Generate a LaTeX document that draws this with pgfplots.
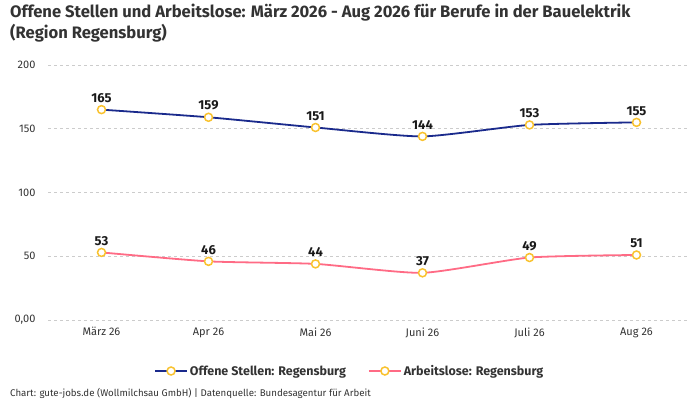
\documentclass[border=0pt]{standalone}
\usepackage{pgfplots}
\pgfplotsset{compat=1.18}
\usepackage{fontspec}
\setmainfont{Fira Sans}
\definecolor{txt}{HTML}{333333}
\definecolor{blue1}{HTML}{1A2A8C}
\definecolor{pink1}{HTML}{FF6B85}
\definecolor{gold1}{HTML}{F9C22E}
\definecolor{gridc}{HTML}{CCCCCC}
\begin{document}
\begin{tikzpicture}
% axis box corner sits at (0,0); the page spans 700pt x 400pt around it
\path[use as bounding box] (-48pt,-80pt) rectangle (652pt,320pt);
\node[anchor=north west, align=left, text=txt, font=\bfseries\fontsize{16.6}{21}\selectfont, inner sep=0pt] at (-38pt,316pt)
  {Offene Stellen und Arbeitslose: März 2026 - Aug 2026 für Berufe in der Bauelektrik\\(Region Regensburg)};
\node[anchor=west, text=txt, font=\fontsize{9.7}{11}\selectfont, inner sep=0pt] at (-38pt,-73pt)
  {Chart: gute-jobs.de (Wollmilchsau GmbH) | Datenquelle: Bundesagentur für Arbeit};
\begin{axis}[
  at={(0pt,0pt)}, anchor=south west,
  width=642pt, height=255pt, scale only axis,
  xmin=-0.5, xmax=5.5, ymin=0, ymax=200,
  axis line style={draw=none},
  tick style={draw=none},
  xtick={0,...,5},
  xticklabels={März 26,Apr 26,Mai 26,Juni 26,Juli 26,Aug 26},
  ytick={0,50,100,150,200},
  yticklabels={{0,00},50,100,150,200},
  ymajorgrids, major grid style={dashed, gridc, line width=0.8pt},
  ticklabel style={text=txt, font=\fontsize{11}{13}\selectfont},
  xticklabel style={yshift=-4pt},
  yticklabel style={xshift=-9pt},
  legend style={at={(0.47,-0.2)}, anchor=center, draw=none, legend columns=2,
    font=\bfseries\fontsize{12.5}{15}\selectfont, text=txt,
    /tikz/every even column/.append style={column sep=20pt}},
  legend image code/.code={
    \draw[#1, mark=none] (0pt,0pt) -- (32pt,0pt);
    \draw[#1, only marks] plot coordinates {(16pt,0pt)};},
  nodes near coords={\pgfmathprintnumber[assume math mode=true]{\pgfplotspointmeta}},
  every node near coord/.append style={text=black!90, font=\bfseries\fontsize{13}{15}\selectfont, yshift=3pt},
  clip=false,
]
\addplot[blue1, line width=1.8pt, smooth, tension=0.35, mark=*,
  mark options={fill=white, draw=gold1, line width=1.5pt}, mark size=4pt]
  coordinates {(0,165) (1,159) (2,151) (3,144) (4,153) (5,155)};
\addlegendentry{Offene Stellen: Regensburg}
\addplot[pink1, line width=1.8pt, smooth, tension=0.35, mark=*,
  mark options={fill=white, draw=gold1, line width=1.5pt}, mark size=4pt]
  coordinates {(0,53) (1,46) (2,44) (3,37) (4,49) (5,51)};
\addlegendentry{Arbeitslose: Regensburg}
\end{axis}
\end{tikzpicture}
\end{document}
